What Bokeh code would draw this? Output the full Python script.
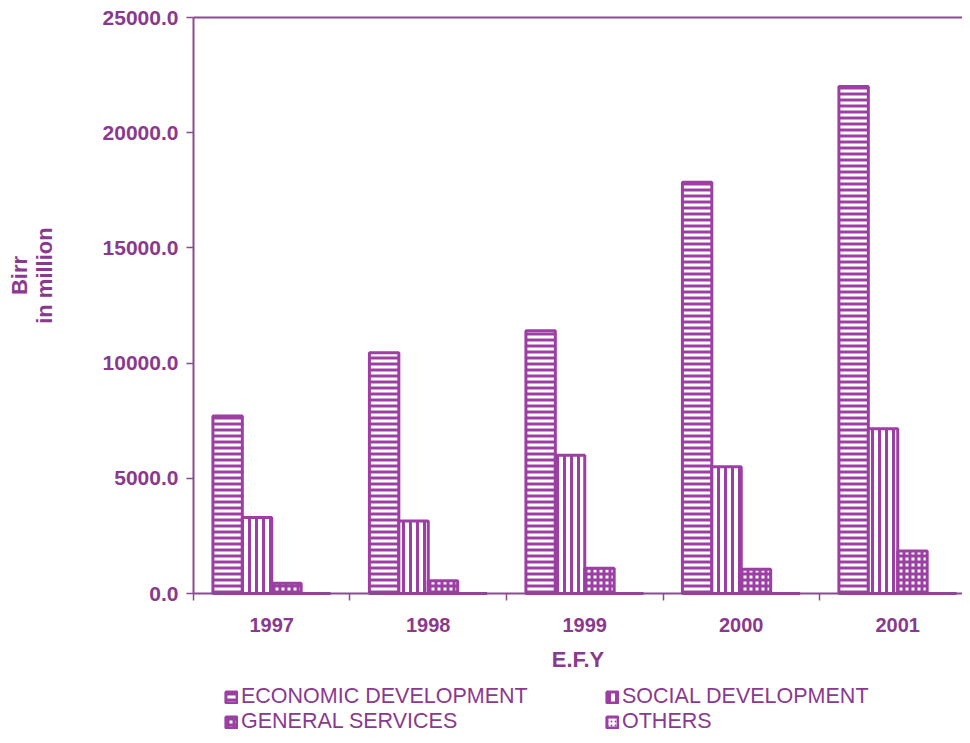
import math
from bokeh.plotting import figure
from bokeh.models import (ColumnDataSource, Range1d, FixedTicker, NumeralTickFormatter,
                          LinearAxis, Label, Legend, LegendItem)
from bokeh.transform import dodge
from bokeh.embed import file_html
from bokeh.resources import INLINE

# ---- data ----
years = ["1997", "1998", "1999", "2000", "2001"]
economic = [7700, 10450, 11400, 17850, 22000]
social = [3300, 3150, 6000, 5500, 7150]
general = [450, 550, 1100, 1050, 1850]
others = [0, 0, 0, 0, 0]
series_names = ["ECONOMIC DEVELOPMENT", "SOCIAL DEVELOPMENT", "GENERAL SERVICES", "OTHERS"]
y_ticks = [0, 5000, 10000, 15000, 20000, 25000]
x_title = "E.F.Y"
y_title = ["Birr", "in million"]

BAR = "#9c3fa3"
TXT = "#8a3a8e"
AX = "#8b4a8b"
FONT = "Liberation Sans"

# view window (frame covers whole canvas; axes are pinned inside it)
X_START, X_END = -1.2332, 4.9137
Y_START, Y_END = -6163, 25738

centers = [i + 0.5 for i in range(len(years))]
src = ColumnDataSource(dict(x=centers, economic=economic, social=social,
                            general=general, others=others))

p = figure(width=962, height=735, output_backend="svg", toolbar_location=None,
           x_range=Range1d(X_START, X_END), y_range=Range1d(Y_START, Y_END),
           min_border=0)
p.title.visible = False
p.background_fill_color = "white"
p.border_fill_color = "white"
p.outline_line_color = None
p.xgrid.visible = False
p.ygrid.visible = False

bw = 0.188
specs = [("economic", "horizontal_line", 6, -1.5),
         ("social", "vertical_line", 7, -0.5),
         ("general", "cross", 6, 0.5),
         ("others", "dot", 4, 1.5)]
rends = []
for key, pat, sc, k in specs:
    r = p.vbar(x=dodge("x", k * bw, range=p.x_range), top=key, bottom=0, width=bw,
               source=src, fill_color="white", line_color=BAR, line_width=3,
               hatch_pattern=pat, hatch_color=BAR, hatch_scale=sc, hatch_weight=3)
    rends.append(r)

# x axis pinned at y = 0
xa = p.xaxis[0]
xa.fixed_location = 0
xa.bounds = (0, X_END)
xa.ticker = FixedTicker(ticks=centers, minor_ticks=list(range(len(years))))
xa.major_label_overrides = {c: y for c, y in zip(centers, years)}
xa.major_tick_line_color = None
xa.major_tick_out = 0
xa.major_tick_in = 0
xa.minor_tick_line_color = AX
xa.minor_tick_line_width = 1.5
xa.minor_tick_out = 7
xa.minor_tick_in = 0
xa.axis_line_color = AX
xa.axis_line_width = 2
xa.major_label_standoff = 17
xa.major_label_text_font = FONT
xa.major_label_text_font_size = "20px"
xa.major_label_text_font_style = "bold"
xa.major_label_text_color = TXT
xa.axis_label = x_title
xa.axis_label_text_font = FONT
xa.axis_label_text_font_size = "22px"
xa.axis_label_text_font_style = "bold"
xa.axis_label_text_color = TXT
xa.axis_label_standoff = 12

# y axis pinned at x = 0
ya = p.yaxis[0]
ya.fixed_location = 0
ya.bounds = (0, y_ticks[-1])
ya.ticker = FixedTicker(ticks=y_ticks)
ya.formatter = NumeralTickFormatter(format="0.0")
ya.minor_tick_line_color = None
ya.major_tick_line_color = AX
ya.major_tick_line_width = 1.5
ya.major_tick_out = 7
ya.major_tick_in = 0
ya.axis_line_color = AX
ya.axis_line_width = 2
ya.major_label_standoff = 8
ya.major_label_text_font = FONT
ya.major_label_text_font_size = "21px"
ya.major_label_text_font_style = "bold"
ya.major_label_text_color = TXT

# top border line of the plot area
top = LinearAxis(fixed_location=y_ticks[-1], bounds=(0, X_END), ticker=FixedTicker(ticks=[]),
                 major_tick_line_color=None, minor_tick_line_color=None,
                 major_label_text_font_size="0px", axis_line_color=AX, axis_line_width=2)
p.add_layout(top, "above")

# y title, two rotated lines
for txt, off in zip(y_title, [-174, -149]):
    p.add_layout(Label(x=0, y=13800, x_offset=off, text=txt, angle=math.pi / 2,
                       text_align="center", text_baseline="middle",
                       text_font=FONT, text_font_size="22px", text_font_style="bold",
                       text_color=TXT))

# legend: two columns under the axis
leg = Legend(items=[LegendItem(label=n, renderers=[r]) for n, r in zip(series_names, rends)],
             location=(224, 1), orientation="horizontal", ncols=2,
             border_line_color=None, background_fill_alpha=0, padding=0, margin=0,
             spacing=0, glyph_width=14, glyph_height=14, label_standoff=3,
             label_width=364, label_height=24,
             label_text_font=FONT, label_text_font_size="21.5px", label_text_color=TXT)
p.add_layout(leg)

open("out.html", "w").write(file_html(p, INLINE))
